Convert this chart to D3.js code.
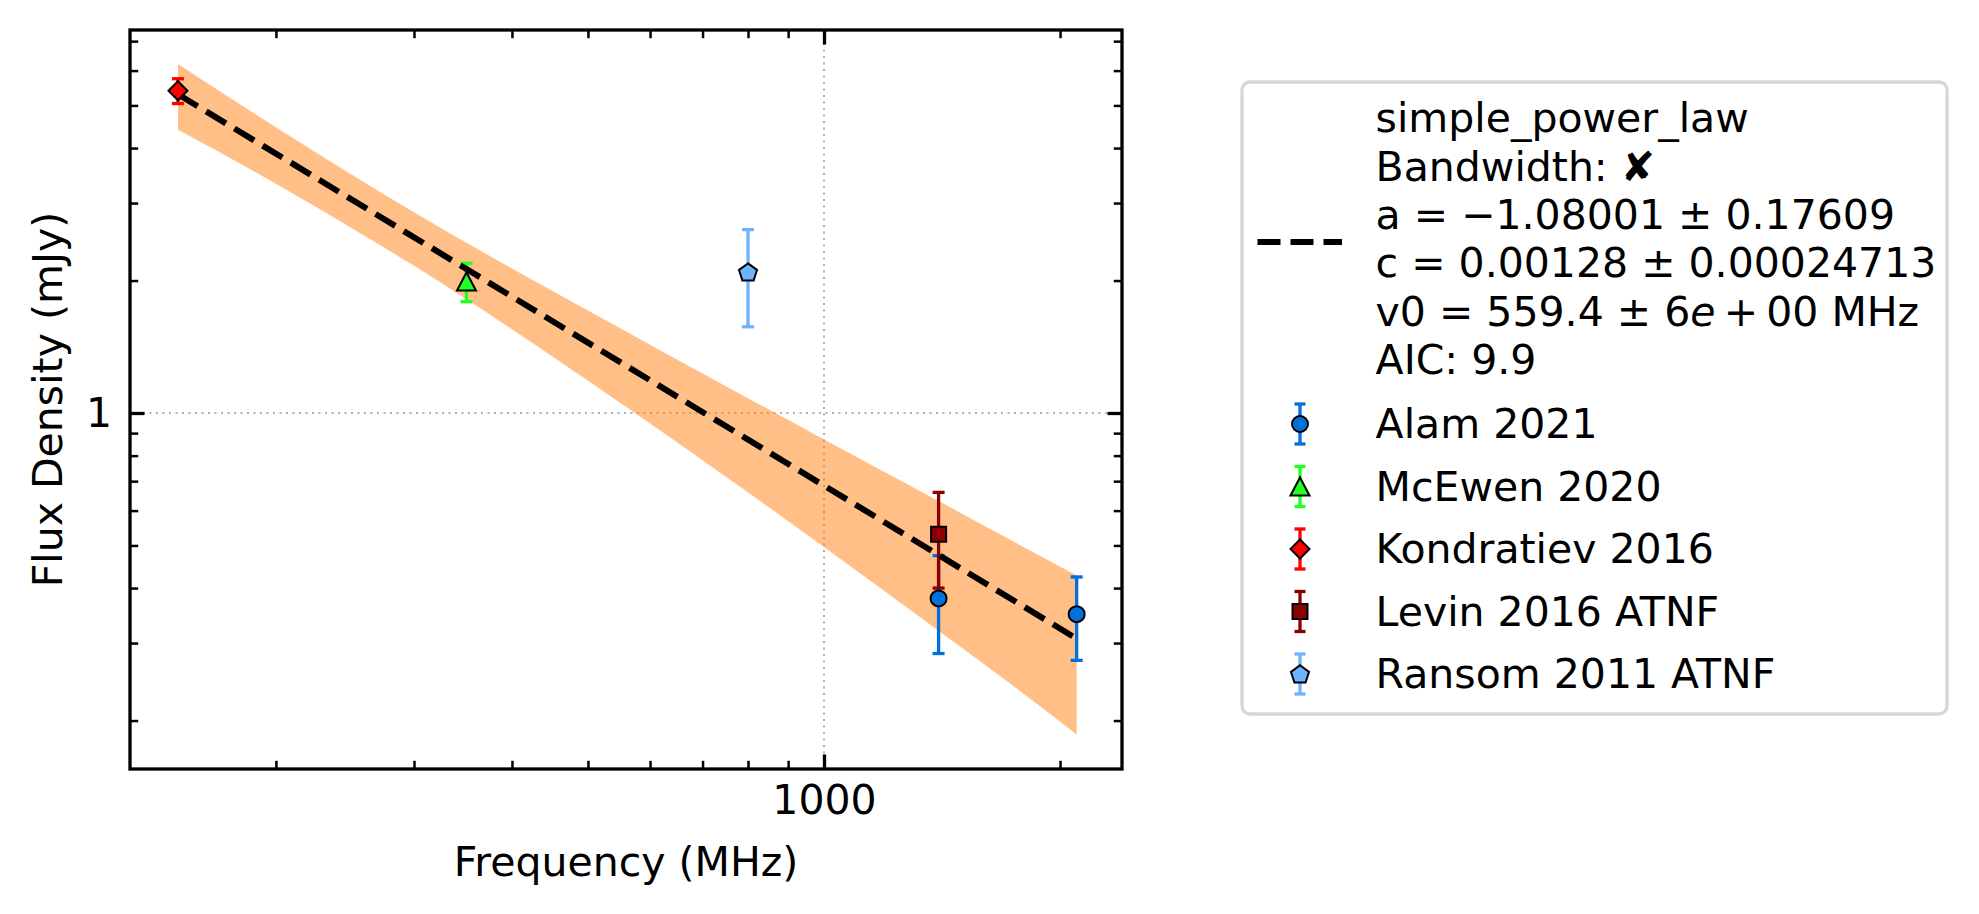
<!DOCTYPE html>
<html>
<head>
<meta charset="utf-8">
<script src="https://cdn.jsdelivr.net/npm/d3@7"></script>
<style>
  body { margin: 0; background: #fff; }
  text { font-family: "DejaVu Sans", sans-serif; }
</style>
</head>
<body>
<svg id="chart" width="1979" height="914"></svg>
<script>
// data
var sources = ["Alam 2021", "McEwen 2020", "Kondratiev 2016", "Levin 2016 ATNF", "Ransom 2011 ATNF"];
var colours = ["#0070db", "#22ff22", "#ff0000", "#8b0000", "#6cb4ff"];
var shapes  = ["circle", "triangle", "diamond", "square", "pentagon"];

var alamFreq   = [1400, 2100];
var alamFlux   = [0.379, 0.349];
var alamErr    = [0.095, 0.075];
var mcewenFreq = [350];
var mcewenFlux = [1.99];
var mcewenErr  = [0.20];
var kondFreq   = [150];
var kondFlux   = [5.40];
var kondErr    = [0.35];
var levinFreq  = [1400];
var levinFlux  = [0.53];
var levinErr   = [0.13];
var ransomFreq = [800];
var ransomFlux = [2.09];
var ransomErr  = [0.52];

// fitted model (dashed) and its uncertainty band
var fitFreq  = [150, 2100];
var fitFlux  = [5.30, 0.307];
var bandFreq  = [150, 200, 250, 300, 400, 560, 700, 1000, 1400, 1700, 2100];
var bandUpper = [6.21, 4.46, 3.48, 2.86, 2.13, 1.53, 1.23, 0.871, 0.631, 0.523, 0.427];
var bandLower = [4.40, 3.32, 2.63, 2.16, 1.55, 1.03, 0.781, 0.496, 0.320, 0.248, 0.186];

var fitLabel = ["simple_power_law", "Bandwidth: \u2718", "a = \u22121.08001 \u00b1 0.17609",
                "c = 0.00128 \u00b1 0.00024713", "v0 = 559.4 \u00b1 6e\u2009+\u200900 MHz", "AIC: 9.9"];

var xMajor = [1000];
var xMinor = [200, 300, 400, 500, 600, 700, 800, 900, 2000];
var yMajor = [1];
var yMinor = [0.2, 0.3, 0.4, 0.5, 0.6, 0.7, 0.8, 0.9, 2, 3, 4, 5, 6, 7];

var series = [
  {f: alamFreq, s: alamFlux, e: alamErr},
  {f: mcewenFreq, s: mcewenFlux, e: mcewenErr},
  {f: kondFreq, s: kondFlux, e: kondErr},
  {f: levinFreq, s: levinFlux, e: levinErr},
  {f: ransomFreq, s: ransomFlux, e: ransomErr}
];

var plot = {left: 130, top: 30, right: 1122, bottom: 769};
var svg = d3.select("#chart");

var x = d3.scaleLog().domain([130.3, 2399]).range([plot.left, plot.right]);
var y = d3.scaleLog().domain([0.1552, 7.42]).range([plot.bottom, plot.top]);

// grid
svg.append("line")
  .attr("x1", x(1000)).attr("x2", x(1000))
  .attr("y1", plot.top).attr("y2", plot.bottom)
  .attr("stroke", "#b0b0b0").attr("stroke-width", 2).attr("stroke-dasharray", "2,4.5");
svg.append("line")
  .attr("x1", plot.left).attr("x2", plot.right)
  .attr("y1", y(1)).attr("y2", y(1))
  .attr("stroke", "#b0b0b0").attr("stroke-width", 2).attr("stroke-dasharray", "2,4.5");

// band
var bandData = bandFreq.map(function(f, i) { return [f, bandLower[i], bandUpper[i]]; });
svg.append("path")
  .datum(bandData)
  .attr("d", d3.area()
    .x(function(d) { return x(d[0]); })
    .y0(function(d) { return y(d[1]); })
    .y1(function(d) { return y(d[2]); })
    .curve(d3.curveMonotoneX))
  .attr("fill", "#ff7f0e").attr("fill-opacity", 0.5);

// error bars
function drawErr(g, cx, yTop, yBot, colour, cap) {
  g.append("line").attr("x1", cx).attr("x2", cx).attr("y1", yTop).attr("y2", yBot)
    .attr("stroke", colour).attr("stroke-width", 3.3);
  [yTop, yBot].forEach(function(yy) {
    g.append("line").attr("x1", cx - cap).attr("x2", cx + cap).attr("y1", yy).attr("y2", yy)
      .attr("stroke", colour).attr("stroke-width", 3.3);
  });
}

var errG = svg.append("g");
series.forEach(function(s, k) {
  s.f.forEach(function(f, i) {
    drawErr(errG, x(f), y(s.s[i] + s.e[i]), y(s.s[i] - s.e[i]), colours[k], 6);
  });
});

// fit line
svg.append("path")
  .datum(fitFreq.map(function(f, i) { return [f, fitFlux[i]]; }))
  .attr("d", d3.line().x(function(d) { return x(d[0]); }).y(function(d) { return y(d[1]); }))
  .attr("fill", "none").attr("stroke", "#000").attr("stroke-width", 6)
  .attr("stroke-dasharray", "23,10");

// markers
function markerPath(shape) {
  var p;
  switch (shape) {
    case "circle":
      return d3.symbol().type(d3.symbolCircle).size(Math.PI * 8 * 8)();
    case "square":
      return "M-7.5,-7.5H7.5V7.5H-7.5Z";
    case "diamond":
      return "M0,-9.5L9.5,0L0,9.5L-9.5,0Z";
    case "triangle":
      return "M0,-9L9.5,9L-9.5,9Z";
    case "pentagon":
      p = d3.range(5).map(function(i) {
        var a = -Math.PI / 2 + i * 2 * Math.PI / 5;
        return [9.5 * Math.cos(a), 9.5 * Math.sin(a) + 0.8];
      });
      return "M" + p.join("L") + "Z";
  }
}

var mkG = svg.append("g");
series.forEach(function(s, k) {
  s.f.forEach(function(f, i) {
    mkG.append("path")
      .attr("d", markerPath(shapes[k]))
      .attr("transform", "translate(" + x(f) + "," + y(s.s[i]) + ")")
      .attr("fill", colours[k]).attr("stroke", "#000").attr("stroke-width", 2);
  });
});

// axes
function styleAxis(g, w) {
  g.select(".domain").remove();
  g.selectAll(".tick line").attr("stroke-width", w);
  g.selectAll(".tick text").attr("font-size", "41px").attr("fill", "#000")
    .style("font-family", "'DejaVu Sans', sans-serif");
}

svg.append("g").attr("transform", "translate(0," + plot.bottom + ")")
  .call(d3.axisBottom(x).tickValues(xMajor).tickFormat(d3.format("d"))
    .tickSizeInner(-14.5).tickSizeOuter(0).tickPadding(16))
  .call(styleAxis, 3.3);
svg.append("g").attr("transform", "translate(0," + plot.bottom + ")")
  .call(d3.axisBottom(x).tickValues(xMinor).tickFormat("").tickSizeInner(-8.2).tickSizeOuter(0))
  .call(styleAxis, 2.5);
svg.append("g").attr("transform", "translate(0," + plot.top + ")")
  .call(d3.axisTop(x).tickValues(xMajor).tickFormat("").tickSizeInner(-14.5).tickSizeOuter(0))
  .call(styleAxis, 3.3);
svg.append("g").attr("transform", "translate(0," + plot.top + ")")
  .call(d3.axisTop(x).tickValues(xMinor).tickFormat("").tickSizeInner(-8.2).tickSizeOuter(0))
  .call(styleAxis, 2.5);

svg.append("g").attr("transform", "translate(" + plot.left + ",0)")
  .call(d3.axisLeft(y).tickValues(yMajor).tickFormat(d3.format("d"))
    .tickSizeInner(-14.5).tickSizeOuter(0).tickPadding(18))
  .call(styleAxis, 3.3);
svg.append("g").attr("transform", "translate(" + plot.left + ",0)")
  .call(d3.axisLeft(y).tickValues(yMinor).tickFormat("").tickSizeInner(-8.2).tickSizeOuter(0))
  .call(styleAxis, 2.5);
svg.append("g").attr("transform", "translate(" + plot.right + ",0)")
  .call(d3.axisRight(y).tickValues(yMajor).tickFormat("").tickSizeInner(-14.5).tickSizeOuter(0))
  .call(styleAxis, 3.3);
svg.append("g").attr("transform", "translate(" + plot.right + ",0)")
  .call(d3.axisRight(y).tickValues(yMinor).tickFormat("").tickSizeInner(-8.2).tickSizeOuter(0))
  .call(styleAxis, 2.5);

// frame
svg.append("rect")
  .attr("x", plot.left).attr("y", plot.top)
  .attr("width", plot.right - plot.left).attr("height", plot.bottom - plot.top)
  .attr("fill", "none").attr("stroke", "#000").attr("stroke-width", 3.3);

// axis labels
svg.append("text")
  .attr("x", (plot.left + plot.right) / 2).attr("y", 876)
  .attr("text-anchor", "middle").attr("font-size", "41px")
  .text("Frequency (MHz)");
svg.append("text")
  .attr("transform", "translate(62," + (plot.top + plot.bottom) / 2 + ") rotate(-90)")
  .attr("text-anchor", "middle").attr("font-size", "41px")
  .text("Flux Density (mJy)");

// legend
var leg = svg.append("g");
leg.append("rect")
  .attr("x", 1242).attr("y", 82).attr("width", 705).attr("height", 632).attr("rx", 8)
  .attr("fill", "#fff").attr("fill-opacity", 0.8)
  .attr("stroke", "#d6d6d6").attr("stroke-width", 3.3);

leg.append("line")
  .attr("x1", 1257.5).attr("x2", 1342).attr("y1", 242).attr("y2", 242)
  .attr("stroke", "#000").attr("stroke-width", 6).attr("stroke-dasharray", "23,10");

fitLabel.forEach(function(t, i) {
  var tx = leg.append("text")
    .attr("x", 1375.6).attr("y", 118 + i * 48.3).attr("dy", "0.35em")
    .attr("font-size", "41px");
  if (t.indexOf("6e") >= 0) {
    var parts = t.split("6e");
    tx.append("tspan").text(parts[0] + "6");
    tx.append("tspan").attr("font-style", "italic").text("e");
    tx.append("tspan").text(parts[1]);
  } else {
    tx.text(t);
  }
});

sources.forEach(function(name, k) {
  var ly = 424 + k * 62.5;
  drawErr(leg, 1300, ly - 20, ly + 20, colours[k], 5.5);
  leg.append("path")
    .attr("d", markerPath(shapes[k]))
    .attr("transform", "translate(1300," + ly + ")")
    .attr("fill", colours[k]).attr("stroke", "#000").attr("stroke-width", 2);
  leg.append("text")
    .attr("x", 1375.6).attr("y", ly).attr("dy", "0.35em")
    .attr("font-size", "41px")
    .text(name);
});
</script>
</body>
</html>
